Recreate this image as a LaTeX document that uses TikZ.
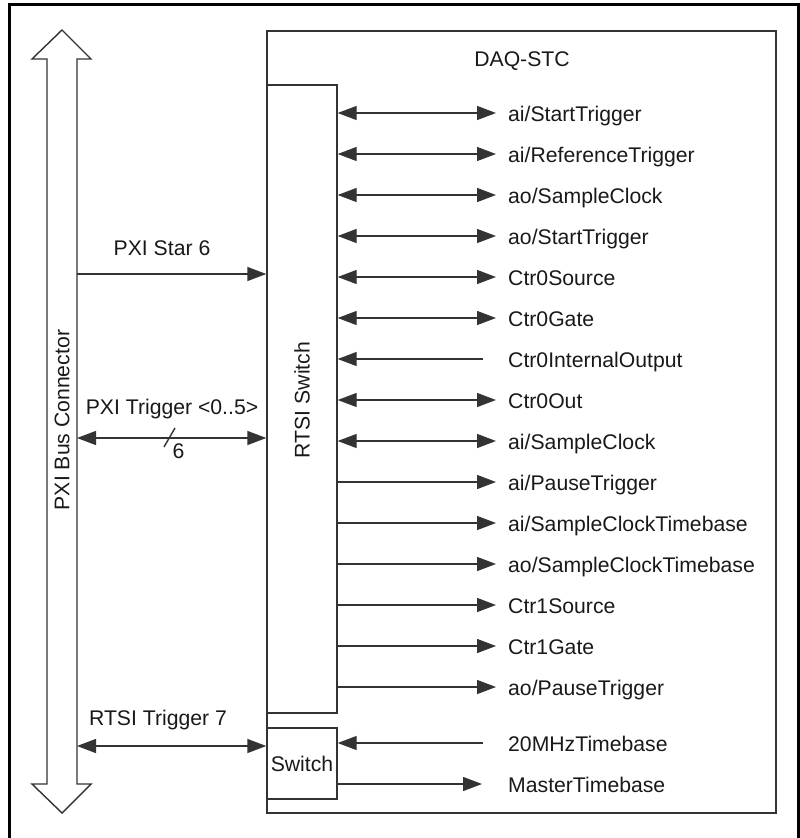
\documentclass[tikz,border=0pt]{standalone}
\usepackage{fontspec}
\setmainfont{Liberation Sans}
\usetikzlibrary{arrows.meta}
\begin{document}
\begin{tikzpicture}[x=1pt,y=-1pt,
  ln/.style={line width=1.4pt,draw=black!80},
  tip/.style={-{Triangle[length=19pt,width=14pt]}},
  tipb/.style={{Triangle[length=19pt,width=14pt]}-{Triangle[length=19pt,width=14pt]}},
  tipl/.style={{Triangle[length=19pt,width=14pt]}-},
  lbl/.style={font=\fontsize{21.2}{25}\selectfont,inner sep=0pt,text=black!90},
  blbl/.style={lbl,anchor=base},
  sig/.style={lbl,anchor=base west}]
\useasboundingbox (0,0) rectangle (800,838);
% outer frame
\draw[line width=3pt,black] (9,845) -- (9,4) -- (798.5,4) -- (798.5,845);
% PXI bus connector big double arrow
\draw[ln,line join=miter] (47,59) -- (32,59) -- (62,30) -- (91,59) -- (77,59) -- (77,784) -- (91,784) -- (62,813) -- (32,784) -- (47,784) -- cycle;
\node[lbl,rotate=90] (pxibus) at (62,420) {PXI Bus Connector};
% DAQ-STC box
\draw[ln] (267,31) rectangle (776,813);
\node[blbl] (daq) at (522,66.5) {DAQ-STC};
% RTSI Switch box
\node[ln,draw,minimum width=70pt,minimum height=628pt,inner sep=0pt] (rtsi) at (302,399) {};
\node[lbl,rotate=90] (rtsilbl) at (302,400) {RTSI Switch};
% Switch box
\node[ln,draw,minimum width=70pt,minimum height=71pt,inner sep=0pt] (sw) at (302,763.5) {};
\node[blbl] (swlbl) at (302,771) {Switch};
% left coordinates on bus
\coordinate (b1) at (77,274);
\coordinate (b2) at (77,438);
\coordinate (b3) at (77,746);
\draw[ln,tip] (b1) -- (b1 -| rtsi.west);
\node[blbl] (star) at (162,255.5) {PXI Star 6};
\draw[ln,tipb] (b2) -- (b2 -| rtsi.west);
\node[blbl] (trig) at (172,414.5) {PXI Trigger <0..5>};
\draw[ln] (175,428) -- (164,447);
\node[blbl] (six) at (178.5,458.5) {6};
\draw[ln,tipb] (b3) -- (b3 -| sw.west);
\node[blbl] (rt7) at (158,725.5) {RTSI Trigger 7};
% signal rows
\foreach \y/\t/\k in {113/ai\slash StartTrigger/b,154/ai\slash ReferenceTrigger/b,195/ao\slash SampleClock/b,236/ao\slash StartTrigger/b,277/Ctr0Source/b,318/Ctr0Gate/b,359/Ctr0InternalOutput/l,400/Ctr0Out/b,441/ai\slash SampleClock/b,482/ai\slash PauseTrigger/r,523/ai\slash SampleClockTimebase/r,564/ao\slash SampleClockTimebase/r,605/Ctr1Source/r,646/Ctr1Gate/r,687/ao\slash PauseTrigger/r}{
  \node[sig] (s\y) at (508,\y+8.5) {\t};
  \coordinate (e\y) at (496,\y);
  \if b\k \draw[ln,tipb] (rtsi.east |- e\y) -- (e\y); \fi
  \if r\k \draw[ln,tip] (rtsi.east |- e\y) -- (e\y); \fi
  \if l\k \draw[ln,tipl] (rtsi.east |- e\y) -- (483,\y); \fi
}
\node[sig] (m20) at (508,751.5) {20MHzTimebase};
\coordinate (m20e) at (483,743);
\draw[ln,tipl] (sw.east |- m20e) -- (m20e);
\node[sig] (mtb) at (508,792.5) {MasterTimebase};
\coordinate (mtbe) at (482,784);
\draw[ln,tip] (sw.east |- mtbe) -- (mtbe);
\end{tikzpicture}
\end{document}
